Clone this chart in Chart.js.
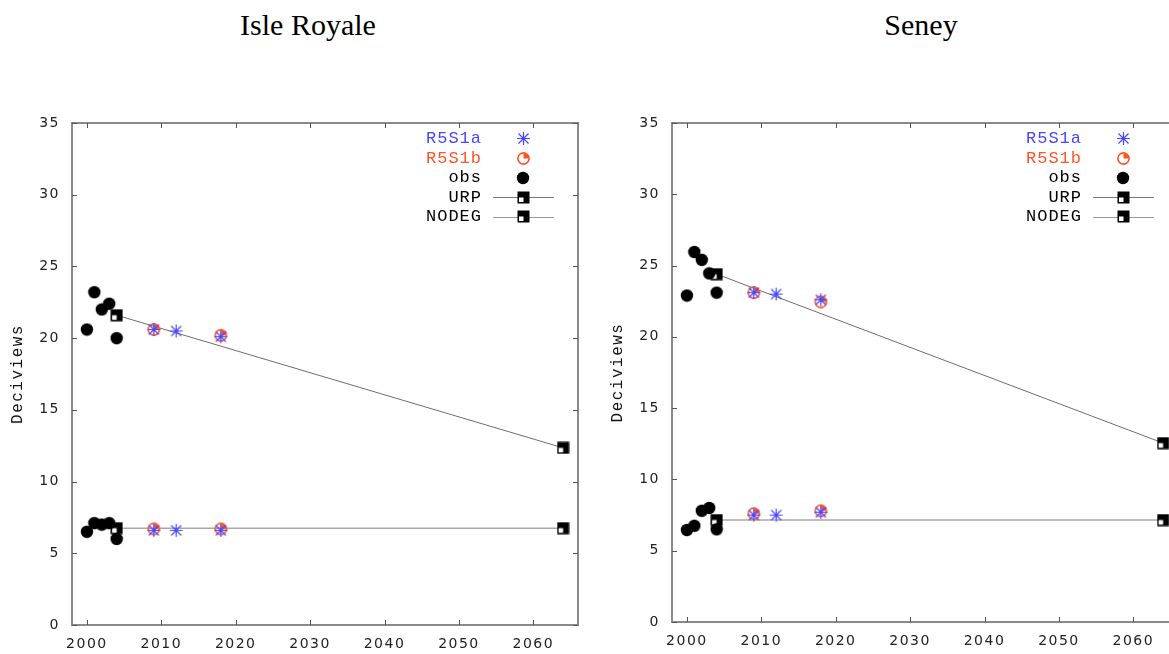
<!DOCTYPE html>
<html>
<head>
<meta charset="utf-8">
<script src="https://cdn.jsdelivr.net/npm/chart.js@4/dist/chart.umd.min.js"></script>
<style>
  html,body{margin:0;padding:0;background:#fff;overflow:hidden;width:1169px;height:654px;}
  .title{position:absolute;top:8px;font:30px "Liberation Serif",serif;color:#000;white-space:nowrap;transform:translateX(-50%);}
  .box{position:absolute;top:0;width:600px;height:654px;}
</style>
</head>
<body>
<div class="title" style="left:308px">Isle Royale</div>
<div class="title" style="left:921px">Seney</div>
<div class="box" style="left:0"><canvas id="isle" width="600" height="654"></canvas></div>
<div class="box" style="left:600px"><canvas id="seney" width="600" height="654"></canvas></div>
<script>
// shared x positions
const obsYears = [2000, 2001, 2002, 2003, 2004];
const r5s1aYears = [2009, 2012, 2018];
const r5s1bYears = [2009, 2018];
const glideYears = [2004, 2064];
const xTicks = [2000, 2010, 2020, 2030, 2040, 2050, 2060];
const yTicks = [0, 5, 10, 15, 20, 25, 30, 35];

// Isle Royale
const irObsHigh = [20.6, 23.2, 22.0, 22.4, 20.0];
const irObsLow = [6.5, 7.1, 7.0, 7.1, 6.0];
const irR5S1aHigh = [20.6, 20.5, 20.1];
const irR5S1aLow = [6.6, 6.6, 6.6];
const irR5S1bHigh = [20.6, 20.2];
const irR5S1bLow = [6.7, 6.7];
const irURP = [21.6, 12.35];
const irNODEG = [6.75, 6.75];

// Seney
const snObsHigh = [22.9, 25.95, 25.4, 24.45, 23.1];
const snObsLow = [6.45, 6.75, 7.8, 8.0, 6.5];
const snR5S1aHigh = [23.1, 23.0, 22.6];
const snR5S1aLow = [7.5, 7.5, 7.7];
const snR5S1bHigh = [23.1, 22.45];
const snR5S1bLow = [7.6, 7.8];
const snURP = [24.4, 12.55];
const snNODEG = [7.15, 7.15];

const BLUE = "#4646ff", ORANGE = "#ff5424";

// marker images
function mk(size, draw){
  const c = document.createElement("canvas");
  c.width = c.height = size;
  draw(c.getContext("2d"), size);
  return c;
}
const star = mk(15, (g,s)=>{
  g.strokeStyle = BLUE; g.lineWidth = 1.2;
  g.beginPath();
  g.moveTo(7.5,1); g.lineTo(7.5,14);
  g.moveTo(1,7.5); g.lineTo(14,7.5);
  g.moveTo(2.5,2.5); g.lineTo(12.5,12.5);
  g.moveTo(12.5,2.5); g.lineTo(2.5,12.5);
  g.stroke();
});
const pie = mk(15, (g,s)=>{
  g.strokeStyle = ORANGE; g.fillStyle = ORANGE; g.lineWidth = 1.6;
  g.beginPath(); g.arc(7.5,7.5,5.6,0,Math.PI*2); g.stroke();
  g.beginPath(); g.moveTo(7.5,7.5); g.arc(7.5,7.5,5.6,-Math.PI/2,0); g.closePath(); g.fill();
});
const dot = mk(14, (g,s)=>{
  g.fillStyle = "#000";
  g.beginPath(); g.arc(7,7,6.2,0,Math.PI*2); g.fill();
});
const sq = mk(13, (g,s)=>{
  g.fillStyle = "#000"; g.fillRect(0.5,0.5,12,12);
  g.fillStyle = "#fff"; g.fillRect(2,6.5,4.5,4.5);
});

const pts = (xs, ys) => xs.map((x,i)=>({x, y: ys[i]}));

const frame = {
  id: "frame",
  beforeDraw(chart){ chart.ctx.letterSpacing = "1.5px"; },
  beforeDatasetsDraw(chart){
    const {ctx, chartArea: a, scales} = chart;
    ctx.save();
    ctx.strokeStyle = "#8a8a8a"; ctx.lineWidth = 2;
    ctx.strokeRect(a.left, a.top, a.right - a.left, a.bottom - a.top);
    ctx.strokeStyle = "#555"; ctx.lineWidth = 1;
    ctx.beginPath();
    xTicks.forEach(v=>{
      const x = Math.round(scales.x.getPixelForValue(v)) + 0.5;
      ctx.moveTo(x, a.bottom); ctx.lineTo(x, a.bottom - 5);
      ctx.moveTo(x, a.top); ctx.lineTo(x, a.top + 5);
    });
    yTicks.forEach(v=>{
      const y = Math.round(scales.y.getPixelForValue(v)) + 0.5;
      ctx.moveTo(a.left, y); ctx.lineTo(a.left + 5, y);
      ctx.moveTo(a.right, y); ctx.lineTo(a.right - 5, y);
    });
    ctx.stroke();
    ctx.restore();
  },
  afterDraw(chart){
    const {ctx, chartArea: a} = chart;
    const rows = [
      {t:"R5S1a", c:BLUE, img:star},
      {t:"R5S1b", c:ORANGE, img:pie},
      {t:"obs", c:"#000", img:dot},
      {t:"URP", c:"#000", img:sq, line:"#777"},
      {t:"NODEG", c:"#000", img:sq, line:"#999"}
    ];
    ctx.save();
    ctx.letterSpacing = "1px";
    ctx.font = '17px "Liberation Mono", monospace';
    ctx.textAlign = "right"; ctx.textBaseline = "middle";
    rows.forEach((r,i)=>{
      const y = a.top + 15.5 + i*19.5;
      ctx.fillStyle = r.c;
      ctx.fillText(r.t, a.right - 96, y);
      if (r.line){
        ctx.strokeStyle = r.line; ctx.lineWidth = 1;
        ctx.beginPath(); ctx.moveTo(a.right - 85, Math.round(y)+0.5); ctx.lineTo(a.right - 24, Math.round(y)+0.5); ctx.stroke();
      }
      ctx.drawImage(r.img, Math.round(a.right - 55 - r.img.width/2), Math.round(y - r.img.height/2));
    });
    ctx.restore();
  }
};

function makeChart(id, d, xAxisH){
  return new Chart(document.getElementById(id), {
    type: "scatter",
    data: {
      datasets: [
        { label:"R5S1a", data: pts(r5s1aYears, d.aHigh).concat(pts(r5s1aYears, d.aLow)), pointStyle: star, order: 0 },
        { label:"R5S1b", data: pts(r5s1bYears, d.bHigh).concat(pts(r5s1bYears, d.bLow)), pointStyle: pie, order: 1 },
        { label:"obs", data: pts(obsYears, d.obsHigh).concat(pts(obsYears, d.obsLow)), pointStyle: dot, order: 2 },
        { label:"URP", data: pts(glideYears, d.urp), showLine: true, borderColor:"#6e6e6e", borderWidth: 1, pointStyle: sq, order: 3 },
        { label:"NODEG", data: pts(glideYears, d.nodeg), showLine: true, borderColor:"#a8a8a8", borderWidth: 1.5, pointStyle: sq, order: 4 }
      ]
    },
    options: {
      responsive: false,
      animation: false,
      events: [],
      layout: { padding: { top: 123, right: 22, left: 0, bottom: 0 } },
      plugins: { legend: { display: false }, tooltip: { enabled: false } },
      scales: {
        x: {
          type: "linear", min: 1998, max: 2066,
          grid: { display: false, drawTicks: false, tickLength: 0 },
          border: { display: false },
          afterFit: s => { s.height = xAxisH; },
          ticks: { stepSize: 10, includeBounds: false, padding: 11, color: "#222", font: { family: "DejaVu Sans", size: 14 }, maxRotation: 0, callback: v => String(v) }
        },
        y: {
          min: 0, max: 35,
          grid: { display: false, drawTicks: false, tickLength: 0 },
          border: { display: false },
          afterFit: s => { s.width = 72; },
          ticks: { stepSize: 5, padding: 12, color: "#222", font: { family: "DejaVu Sans", size: 14 } },
          title: { display: true, text: "Deciviews", color: "#111", padding: { top: 8, bottom: 0 }, font: { family: "Liberation Mono", size: 16 } }
        }
      }
    },
    plugins: [frame]
  });
}

makeChart("isle", { obsHigh: irObsHigh, obsLow: irObsLow, aHigh: irR5S1aHigh, aLow: irR5S1aLow, bHigh: irR5S1bHigh, bLow: irR5S1bLow, urp: irURP, nodeg: irNODEG }, 29);
makeChart("seney", { obsHigh: snObsHigh, obsLow: snObsLow, aHigh: snR5S1aHigh, aLow: snR5S1aLow, bHigh: snR5S1bHigh, bLow: snR5S1bLow, urp: snURP, nodeg: snNODEG }, 32);
</script>
</body>
</html>
